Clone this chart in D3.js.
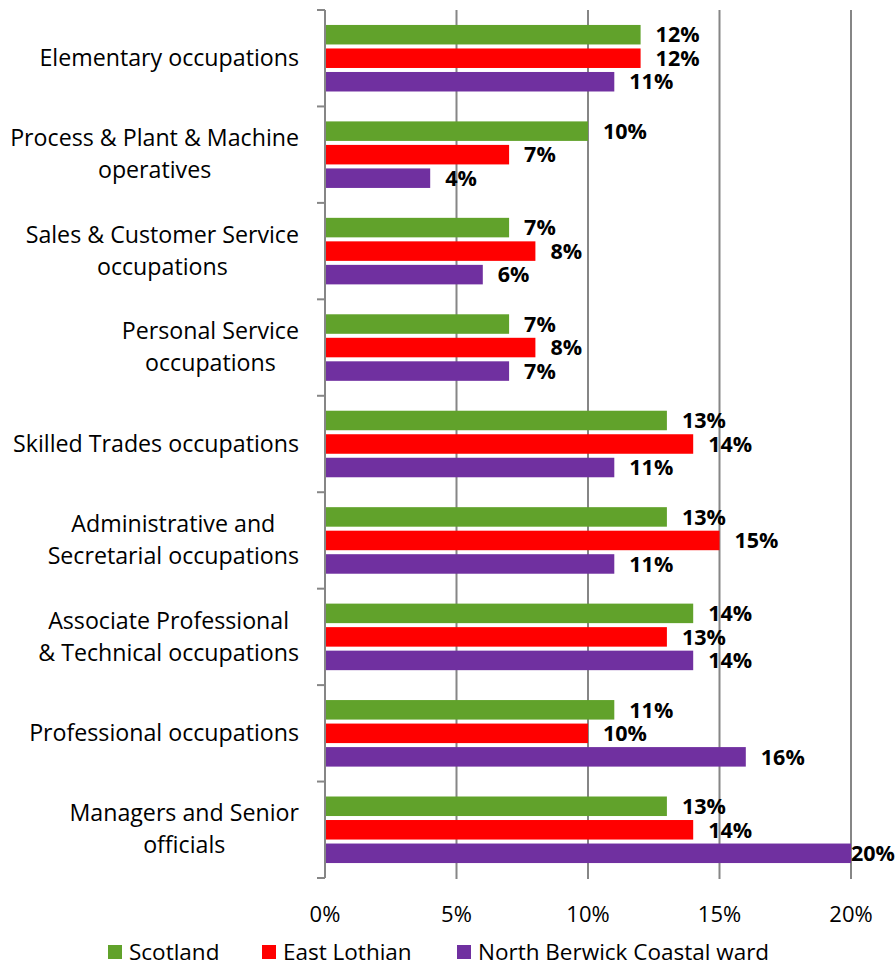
<!DOCTYPE html>
<html>
<head>
<style>
body { margin: 0; background: #fff; }
text { font-family: "Open Sans", "Lato", sans-serif; }
</style>
</head>
<body>
<svg id="chart" width="896" height="968"></svg>
<script src="https://d3js.org/d3.v7.min.js"></script>
<script>
    // categories top to bottom, lines split for wrapped labels
    const categories = [
        ["Elementary occupations"],
        ["Process & Plant & Machine", "operatives"],
        ["Sales & Customer Service", "occupations"],
        ["Personal Service", "occupations"],
        ["Skilled Trades occupations"],
        ["Administrative and", "Secretarial occupations"],
        ["Associate Professional", "& Technical occupations"],
        ["Professional occupations"],
        ["Managers and Senior", "officials"]
    ];
    const series = ["Scotland", "East Lothian", "North Berwick Coastal ward"];
    const colors = ["#61a22b", "#ff0000", "#7030a0"];
    const scotland = [12, 10, 7, 7, 13, 13, 14, 11, 13];
    const eastLothian = [12, 7, 8, 8, 14, 15, 13, 10, 14];
    const northBerwick = [11, 4, 6, 7, 11, 11, 14, 16, 20];
    const xTicks = [0, 5, 10, 15, 20];

    const values = [scotland, eastLothian, northBerwick];
    const svg = d3.select("#chart");
    const plotLeft = 325, plotRight = 851, plotTop = 10, plotBottom = 878;
    const axisColor = "#868686";

    const x = d3.scaleLinear().domain([0, 20]).range([plotLeft, plotRight]);
    const y0 = d3.scaleBand()
        .domain(d3.range(categories.length))
        .range([plotTop, plotBottom])
        .paddingInner(0.31)
        .paddingOuter(0.155);
    const y1 = d3.scaleBand()
        .domain(d3.range(series.length))
        .range([0, y0.bandwidth()])
        .paddingInner(0.17);
    const step = y0.step();

    // gridlines
    svg.selectAll("line.grid")
        .data(xTicks.slice(1))
        .enter()
        .append("line")
        .attr("class", "grid")
        .attr("x1", d => x(d)).attr("x2", d => x(d))
        .attr("y1", plotTop).attr("y2", plotBottom + 1)
        .style("stroke", axisColor)
        .style("stroke-width", 2);

    // bars
    const groups = svg.selectAll("g.cat")
        .data(categories)
        .enter()
        .append("g")
        .attr("class", "cat")
        .attr("transform", (d, i) => `translate(0,${y0(i)})`);

    groups.each(function(c, ci) {
        const g = d3.select(this);
        series.forEach((s, si) => {
            const v = values[si][ci];
            g.append("rect")
                .attr("x", x(0))
                .attr("y", y1(si))
                .attr("width", x(v) - x(0))
                .attr("height", y1.bandwidth())
                .style("fill", colors[si]);
            const t = g.append("text")
                .attr("x", x(v) + 15)
                .attr("y", y1(si) + y1.bandwidth() / 2)
                .attr("dy", "0.36em")
                .attr("font-size", "21.5px")
                .attr("font-weight", "bold")
                .attr("fill", "#000")
                .text(v + "%");
            const w = t.node().getComputedTextLength();
            if (x(v) + 15 + w > 895) t.attr("x", 895 - w);
        });
    });

    // y axis line and ticks
    svg.append("line")
        .attr("x1", plotLeft).attr("x2", plotLeft)
        .attr("y1", plotTop).attr("y2", plotBottom)
        .style("stroke", axisColor)
        .style("stroke-width", 2);
    svg.selectAll("line.ytick")
        .data(d3.range(categories.length + 1))
        .enter()
        .append("line")
        .attr("class", "ytick")
        .attr("x1", plotLeft - 8).attr("x2", plotLeft)
        .attr("y1", d => plotTop + d * step).attr("y2", d => plotTop + d * step)
        .style("stroke", axisColor)
        .style("stroke-width", 2);

    // category labels: lines centred on each other, right edge at 299
    svg.selectAll("text.catlabel")
        .data(categories)
        .enter()
        .append("text")
        .attr("class", "catlabel")
        .attr("text-anchor", "middle")
        .attr("font-size", "23.2px")
        .attr("fill", "#000")
        .each(function(lines, i) {
            const el = d3.select(this);
            const cy = plotTop + i * step + step / 2;
            const lh = 32;
            const spans = lines.map((ln, k) => el.append("tspan")
                .attr("y", cy + (k - (lines.length - 1) / 2) * lh)
                .attr("dy", "0.33em")
                .text(ln));
            const maxW = d3.max(spans, s => s.node().getComputedTextLength());
            spans.forEach(s => s.attr("x", 299 - maxW / 2));
        });

    // x tick labels
    svg.selectAll("text.xtick")
        .data(xTicks)
        .enter()
        .append("text")
        .attr("class", "xtick")
        .attr("x", d => x(d))
        .attr("y", 922)
        .attr("text-anchor", "middle")
        .attr("font-size", "22px")
        .text(d => d + "%");

    // legend
    const legendX = [108, 262, 457];
    const legend = svg.selectAll("g.legend")
        .data(series)
        .enter()
        .append("g")
        .attr("class", "legend")
        .attr("transform", (d, i) => `translate(${legendX[i]},945)`);
    legend.append("rect")
        .attr("width", 14).attr("height", 14)
        .style("fill", (d, i) => colors[i]);
    legend.append("text")
        .attr("x", 21).attr("y", 15)
        .attr("font-size", "22.5px")
        .text(d => d);
</script>
</body>
</html>
